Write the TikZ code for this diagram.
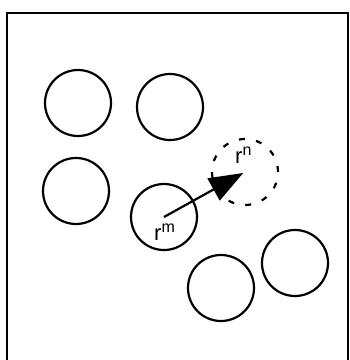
\documentclass[tikz,border=0pt]{standalone}
\usepackage{fontspec}
\setmainfont{Liberation Sans}
\usetikzlibrary{arrows.meta}
\tikzset{
  ball/.style={circle, draw=black, line width=2.2pt, minimum size=66pt, inner sep=0pt},
  ghost/.style={ball, dash pattern=on 6pt off 11.3pt},
  lbl/.style={inner sep=0pt, anchor=base west},
  vec/.style={line width=2.2pt, -{Triangle[length=34pt,width=25pt]}}
}
\newcommand{\rlabel}[1]{{\fontsize{22}{22}\selectfont r\raisebox{8pt}{\fontsize{16}{16}\selectfont #1}}}
\begin{document}
\begin{tikzpicture}[x=1pt,y=-1pt]
\useasboundingbox (0,0) rectangle (350,360);
\clip (0,0) rectangle (350,360);
\draw[line width=2pt] (7,380) -- (7,13) -- (348,13) -- (348,380);
\node[ball] (c1) at (78,103) {};
\node[ball] (c2) at (170,107) {};
\node[ball] (c3) at (76,191) {};
\node[ball] (c4) at (164,217) {};
\node[ghost] (c5) at (245,172) {};
\node[ball] (c6) at (221,288) {};
\node[ball] (c7) at (295,263) {};
\draw[vec, shorten >=2pt] (c4.center) -- (c5.center);
\node[lbl] (rm) at (154,240) {\rlabel{m}};
\node[lbl] (rn) at (235,163) {\rlabel{n}};
\end{tikzpicture}
\end{document}
